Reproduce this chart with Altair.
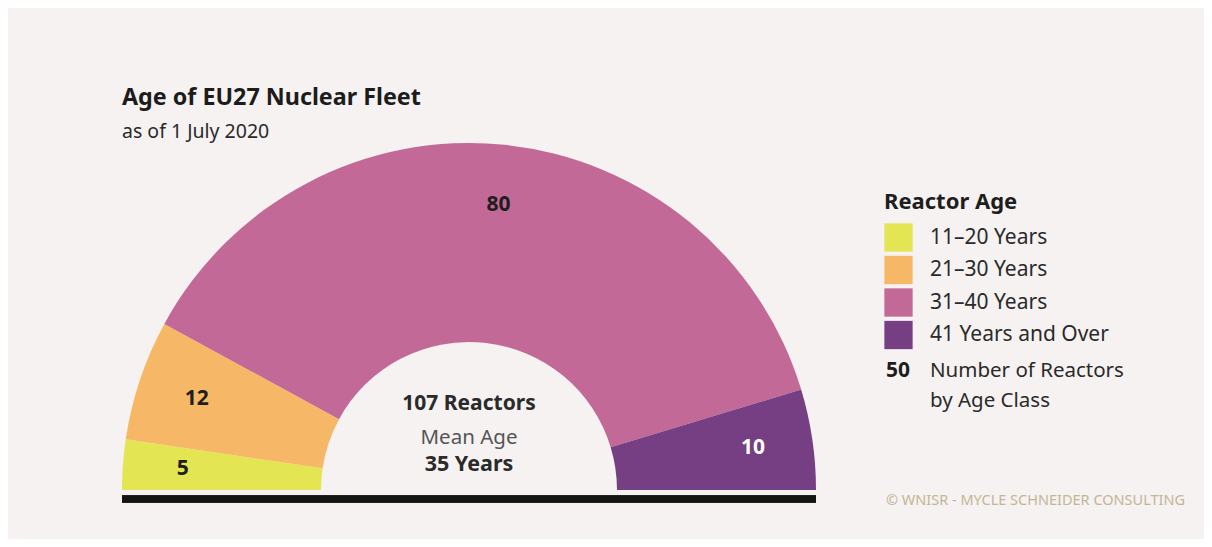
import altair as alt
import pandas as pd
import math

categories = ["11–20 Years", "21–30 Years", "31–40 Years", "41 Years and Over"]
reactors = [5, 12, 80, 10]
colors = ["#e4e553", "#f6b866", "#c36997", "#763f84"]
label_colors = ["#1e1e1e", "#1e1e1e", "#1e1e1e", "#ffffff"]

FONT = "Noto Sans"
BG = "#f5f2f1"
CX, CY = 461, 482

df = pd.DataFrame({
    "cat": categories,
    "n": reactors,
    "ord": list(range(len(categories))),
    "lc": label_colors,
})

theta = alt.Theta("n:Q", stack=True,
                  scale=alt.Scale(domain=[0, sum(reactors)], range=[-math.pi / 2, math.pi / 2]))

arcs = alt.Chart(df).mark_arc(outerRadius=347, innerRadius=148).encode(
    theta=theta,
    order=alt.Order("ord:O"),
    color=alt.Color("cat:N", scale=alt.Scale(domain=categories, range=colors),
                    sort=categories,
                    legend=alt.Legend(title="Reactor Age", orient="none",
                                      legendX=876, legendY=184)),
    x=alt.value(CX), y=alt.value(CY),
)

labels = alt.Chart(df).mark_text(radius=287, font=FONT, fontSize=21, fontWeight="bold").encode(
    theta=theta,
    order=alt.Order("ord:O"),
    text=alt.Text("n:Q"),
    color=alt.Color("lc:N", scale=None),
    x=alt.value(CX), y=alt.value(CY),
)

base_line = alt.Chart(df).mark_rule(color="#151515", strokeWidth=7).encode(
    x=alt.value(114), x2=alt.value(808), y=alt.value(491)
)

def txt(s, x, y, size, weight="normal", color="#222222", align="left", baseline="alphabetic"):
    return alt.Chart(pd.DataFrame({"t": [s]})).mark_text(
        font=FONT, fontSize=size, fontWeight=weight, color=color, align=align,
        baseline=baseline
    ).encode(text="t:N", x=alt.value(x), y=alt.value(y))

texts = [
    txt("Age of EU27 Nuclear Fleet", 114, 97, 23.3, "bold", "#1c1c1c"),
    txt("as of 1 July 2020", 114, 130, 19.5, "normal", "#2a2a2a"),
    txt("107 Reactors", CX, 396, 21, "bold", "#2a2a2a", align="center", baseline="middle"),
    txt("Mean Age", CX, 430, 20.5, "normal", "#555555", align="center", baseline="middle"),
    txt("35 Years", CX, 457, 21.5, "bold", "#2a2a2a", align="center", baseline="middle"),
    txt("50", 878, 369, 21, "bold", "#1e1e1e"),
    txt("Number of Reactors", 922, 369, 20.5, "normal", "#2a2a2a"),
    txt("by Age Class", 922, 399, 20.5, "normal", "#2a2a2a"),
    txt("© WNISR - MYCLE SCHNEIDER CONSULTING", 878, 497, 14.5, "normal", "#c5b596"),
]

chart = alt.layer(arcs, labels, base_line, *texts).properties(
    width=1196, height=531, background=BG, padding=0,
    autosize=alt.AutoSizeParams(type="none"),
).configure_view(stroke=None).configure_legend(
    titleFont=FONT, titleFontSize=22, titleFontWeight="bold", titleColor="#1e1e1e",
    titlePadding=9, titleLimit=400,
    labelFont=FONT, labelFontSize=21, labelColor="#2a2a2a", labelOffset=17, labelLimit=400,
    symbolType="square", symbolSize=800, symbolStrokeWidth=0, symbolOpacity=1,
    rowPadding=3.5,
)

chart.save("out.html", embed_options={"renderer": "svg", "actions": False})
